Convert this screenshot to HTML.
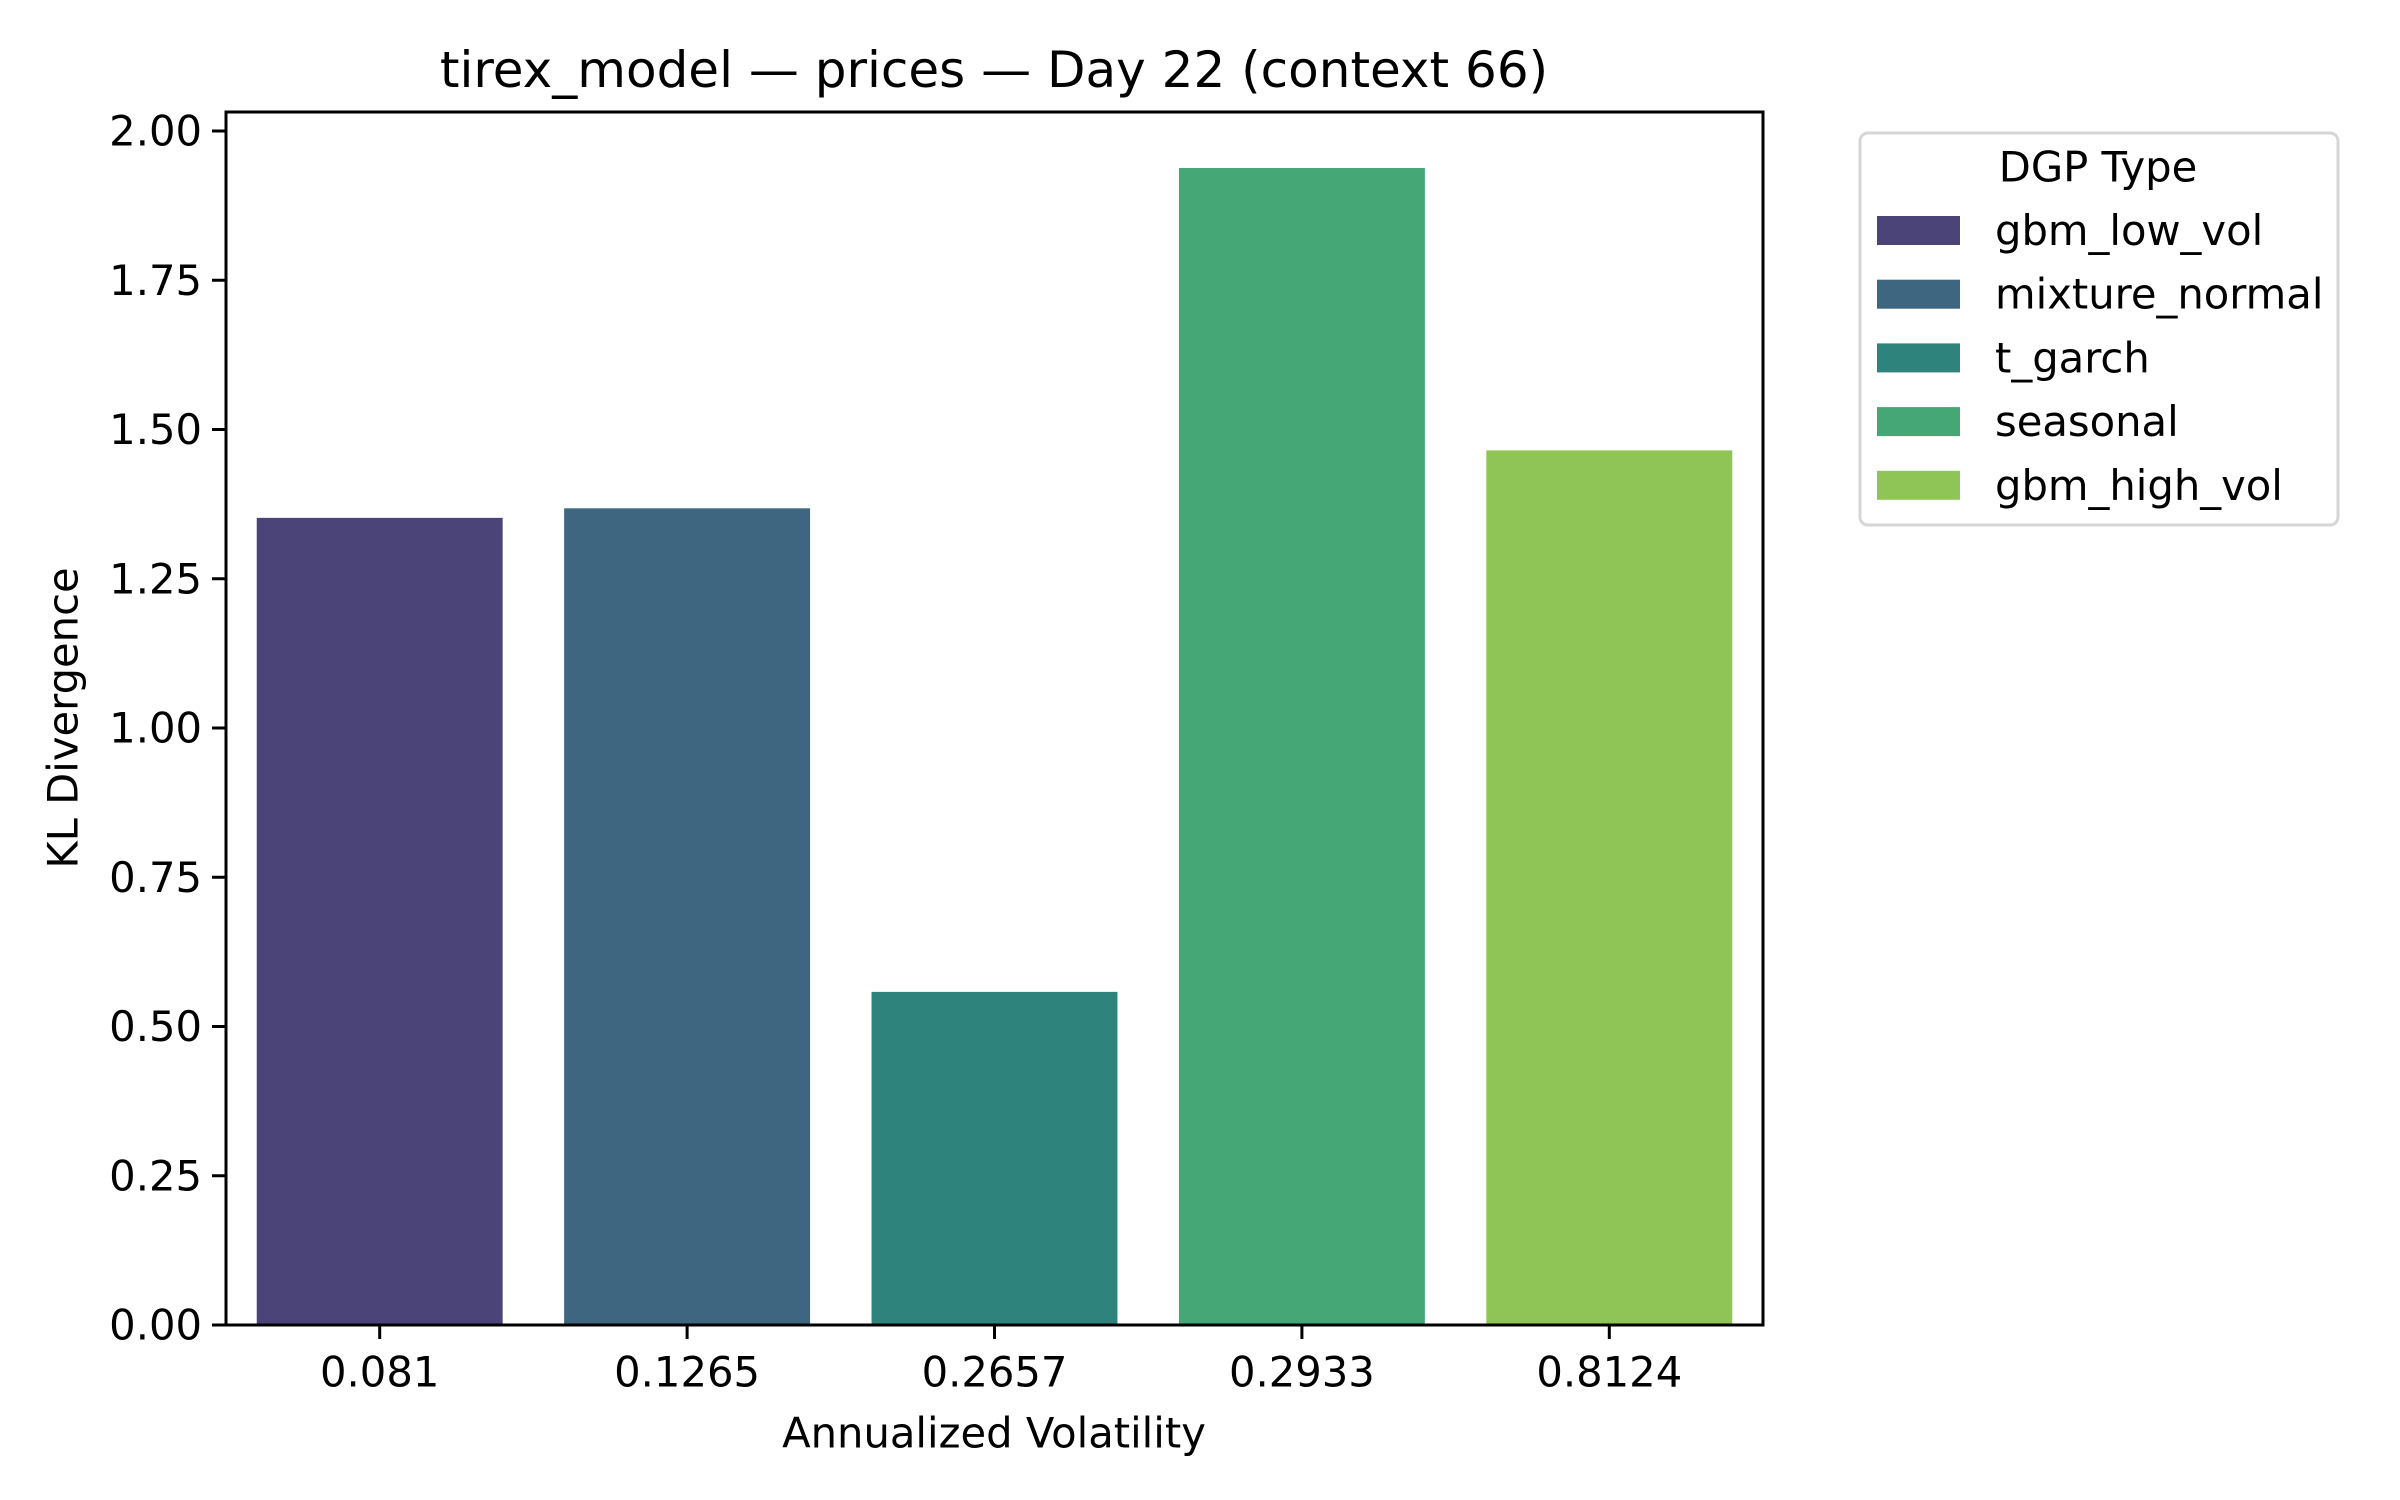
<!DOCTYPE html>
<html><head><meta charset="utf-8"><style>
html,body{margin:0;padding:0;background:#fff;}
svg{display:block;font-family:"DejaVu Sans","Liberation Sans",sans-serif;}
</style></head><body>
<svg id="chart" width="2400" height="1500" viewBox="0 0 2400 1500" xmlns="http://www.w3.org/2000/svg">
<rect width="2400" height="1500" fill="#fff"/>
<text x="994" y="70" font-size="50" text-anchor="middle" dominant-baseline="central">tirex_model — prices — Day 22 (context 66)</text>
<g id="bars"></g>
<g id="yticks"></g>
<g id="xticks"></g>
<rect x="226" y="112" width="1537" height="1213" fill="none" stroke="#000" stroke-width="3"/>
<text x="994" y="1433" font-size="41.7" text-anchor="middle" dominant-baseline="central">Annualized Volatility</text>
<text x="0" y="0" font-size="41.7" text-anchor="middle" dominant-baseline="central" transform="translate(63,718) rotate(-90)">KL Divergence</text>
<g id="legend">
<rect x="1860" y="133" width="478" height="392" rx="8" fill="#fff" stroke="#d6d6d6" stroke-width="3"/>
<text x="2098" y="167" font-size="41.7" text-anchor="middle" dominant-baseline="central">DGP Type</text>
</g>
</svg>
<script>
const categories = ["0.081", "0.1265", "0.2657", "0.2933", "0.8124"];
const seriesNames = ["gbm_low_vol", "mixture_normal", "t_garch", "seasonal", "gbm_high_vol"];
const values = [1.352, 1.368, 0.558, 1.938, 1.465];
const colors = ["#4b4478", "#3e6681", "#2e837c", "#46a776", "#8fc557"];
const yTicks = [0, 0.25, 0.5, 0.75, 1.0, 1.25, 1.5, 1.75, 2.0];
const yTickLabels = ["0.00", "0.25", "0.50", "0.75", "1.00", "1.25", "1.50", "1.75", "2.00"];

const NS = "http://www.w3.org/2000/svg";
const L = 226, R = 1763, T = 112, B = 1325;
const Y0 = 1325, Y2 = 131;
function yScale(v){ return Y0 - v * (Y0 - Y2) / 2.0; }
const step = (R - L) / categories.length;
function xScale(i){ return L + step * (i + 0.5); }
function mk(tag, attrs){ const e = document.createElementNS(NS, tag); for (const k in attrs) e.setAttribute(k, attrs[k]); return e; }

const bars = document.getElementById('bars');
values.forEach((v, i) => {
  const w = step * 0.8;
  const r = mk('rect', {x: xScale(i) - w/2, y: yScale(v), width: w, height: yScale(0) - yScale(v), fill: colors[i]});
  
  
  bars.appendChild(r);
});

const yt = document.getElementById('yticks');
yTicks.forEach((v, i) => {
  const y = yScale(v);
  const ln = mk('line', {x1: L - 14, x2: L, y1: y, y2: y, stroke: '#000', 'stroke-width': 3});
  
  
  yt.appendChild(ln);
  const t = mk('text', {x: L - 24, y: y, 'font-size': 41.7, 'text-anchor': 'end', 'dominant-baseline': 'central'});
  t.textContent = yTickLabels[i];
  
  
  yt.appendChild(t);
});

const xt = document.getElementById('xticks');
categories.forEach((c, i) => {
  const x = xScale(i);
  const ln = mk('line', {x1: x, x2: x, y1: B, y2: B + 14, stroke: '#000', 'stroke-width': 3});
  
  
  xt.appendChild(ln);
  const t = mk('text', {x: x, y: 1372, 'font-size': 41.7, 'text-anchor': 'middle', 'dominant-baseline': 'central'});
  t.textContent = c;
  
  
  xt.appendChild(t);
});

const lg = document.getElementById('legend');
seriesNames.forEach((n, i) => {
  const cy = 230.5 + i * 63.7;
  const g = mk('g', {});
  
  
  const p = mk('rect', {x: 1877, y: cy - 14.5, width: 83, height: 29, fill: colors[i]});
  
  
  const t = mk('text', {x: 1995, y: cy, 'font-size': 41.7, 'dominant-baseline': 'central'});
  t.textContent = n;
  
  
  g.appendChild(p); g.appendChild(t);
  lg.appendChild(g);
});
</script>
</body></html>
